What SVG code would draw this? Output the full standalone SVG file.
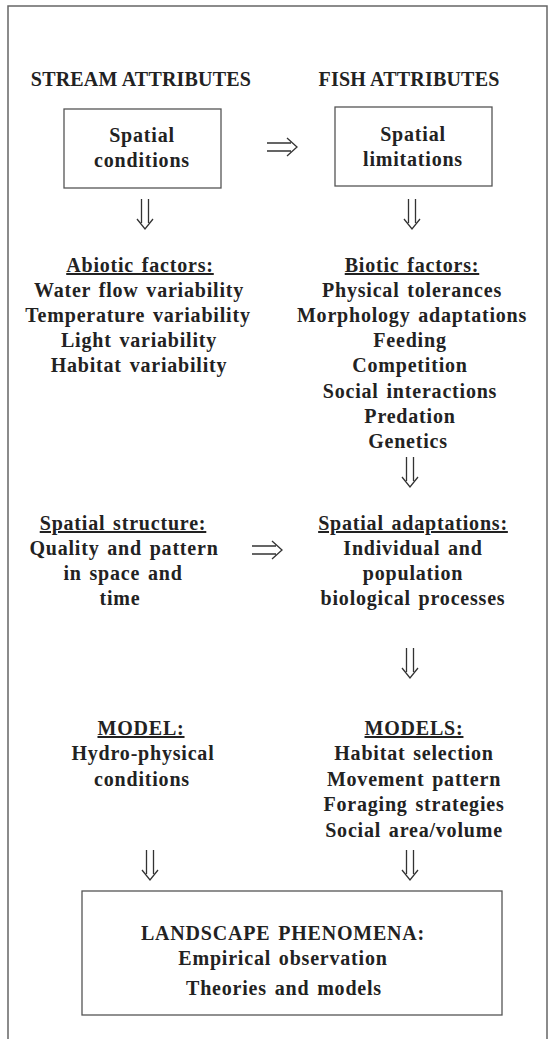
<svg xmlns="http://www.w3.org/2000/svg" width="552" height="1039" viewBox="0 0 552 1039">
<style>
  text { font-family: "Liberation Serif", "Times New Roman", serif; font-weight: bold; fill: #222; text-anchor: middle; }
  .h { font-size: 20px; letter-spacing: 0.2px; }
  .t { font-size: 20px; letter-spacing: 0.8px; word-spacing: 2px; }
  .u { text-decoration: underline; }
  .box { fill: none; stroke: #555; stroke-width: 1.3; }
  .frame { fill: none; stroke: #666; stroke-width: 1.5; }
  .arr { fill: none; stroke: #333; stroke-width: 1.3; }
</style>
<defs>
  <path id="down" class="arr" d="M-3.5,0 V24 M3.5,0 V24 M-8,20 L0,30 L8,20"/>
  <path id="right" class="arr" d="M0,-4 H24 M0,4 H24 M20,-9 L30,0 L20,9"/>
</defs>
<rect width="552" height="1039" fill="#fff"/>
<path class="frame" d="M8,1039 V6 H547 V1039"/>

<g id="headings">
  <text class="h" x="141" y="86">STREAM ATTRIBUTES</text>
  <text class="h" x="409" y="86">FISH ATTRIBUTES</text>
</g>

<g id="spatial-conditions">
  <rect class="box" x="64" y="109" width="157" height="79"/>
  <text class="t" x="142" y="142">Spatial</text>
  <text class="t" x="142" y="167">conditions</text>
</g>

<g id="spatial-limitations">
  <rect class="box" x="335" y="107" width="157" height="79"/>
  <text class="t" x="413" y="141">Spatial</text>
  <text class="t" x="413" y="166">limitations</text>
</g>

<g id="abiotic-factors">
  <text class="t u" x="140" y="272">Abiotic factors:</text>
  <text class="t" x="139" y="297">Water flow variability</text>
  <text class="t" x="138" y="322">Temperature variability</text>
  <text class="t" x="139" y="347">Light variability</text>
  <text class="t" x="139" y="372">Habitat variability</text>
</g>

<g id="biotic-factors">
  <text class="t u" x="412" y="272">Biotic factors:</text>
  <text class="t" x="412" y="297">Physical tolerances</text>
  <text class="t" x="412" y="322">Morphology adaptations</text>
  <text class="t" x="410" y="347">Feeding</text>
  <text class="t" x="410" y="372">Competition</text>
  <text class="t" x="410" y="398">Social interactions</text>
  <text class="t" x="410" y="423">Predation</text>
  <text class="t" x="408" y="448">Genetics</text>
</g>

<g id="spatial-structure">
  <text class="t u" x="123" y="530">Spatial structure:</text>
  <text class="t" x="124" y="555">Quality and pattern</text>
  <text class="t" x="123" y="580">in space and</text>
  <text class="t" x="120" y="605">time</text>
</g>

<g id="spatial-adaptations">
  <text class="t u" x="413" y="530">Spatial adaptations:</text>
  <text class="t" x="413" y="555">Individual and</text>
  <text class="t" x="413" y="580">population</text>
  <text class="t" x="413" y="605">biological processes</text>
</g>

<g id="model">
  <text class="t u" x="141" y="735">MODEL:</text>
  <text class="t" x="143" y="760">Hydro-physical</text>
  <text class="t" x="142" y="786">conditions</text>
</g>

<g id="models">
  <text class="t u" x="414" y="735">MODELS:</text>
  <text class="t" x="414" y="760">Habitat selection</text>
  <text class="t" x="414" y="786">Movement pattern</text>
  <text class="t" x="414" y="811">Foraging strategies</text>
  <text class="t" x="414" y="837">Social area/volume</text>
</g>

<g id="landscape-phenomena">
  <rect class="box" x="82" y="891" width="420" height="124"/>
  <text class="t" x="283" y="940">LANDSCAPE PHENOMENA:</text>
  <text class="t" x="283" y="965">Empirical observation</text>
  <text class="t" x="284" y="995">Theories and models</text>
</g>

<g id="connectors">
  <use href="#right" x="267" y="147"/>
  <use href="#down" x="145" y="199"/>
  <use href="#down" x="412" y="199"/>
  <use href="#down" x="410" y="457"/>
  <use href="#right" x="252" y="550"/>
  <use href="#down" x="410" y="648"/>
  <use href="#down" x="150" y="850"/>
  <use href="#down" x="410" y="850"/>
</g>
</svg>
